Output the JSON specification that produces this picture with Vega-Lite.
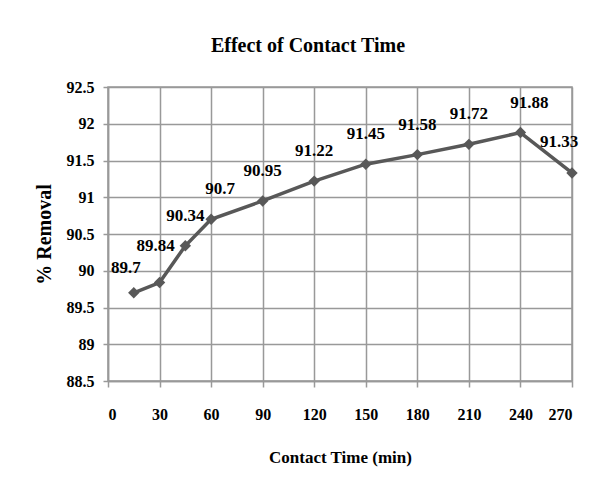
{
  "$schema": "https://vega.github.io/schema/vega-lite/v6.json",
  "width": 464,
  "height": 294,
  "autosize": {"type": "none"},
  "padding": {"left": 108, "top": 87, "right": 34, "bottom": 108},
  "background": "white",
  "title": {
    "text": "Effect of Contact Time",
    "font": "Liberation Serif",
    "fontSize": 20,
    "fontWeight": "bold",
    "color": "black",
    "dx": -32,
    "offset": 23
  },
  "data": {
    "values": [
      {"time": 15, "removal": 89.7},
      {"time": 30, "removal": 89.84},
      {"time": 45, "removal": 90.34},
      {"time": 60, "removal": 90.7},
      {"time": 90, "removal": 90.95},
      {"time": 120, "removal": 91.22},
      {"time": 150, "removal": 91.45},
      {"time": 180, "removal": 91.58},
      {"time": 210, "removal": 91.72},
      {"time": 240, "removal": 91.88},
      {"time": 270, "removal": 91.33}
    ]
  },
  "encoding": {
    "x": {
      "field": "time",
      "type": "quantitative",
      "scale": {"domain": [0, 270], "nice": false, "zero": false},
      "axis": {
        "title": "Contact Time (min)",
        "grid": true,
        "gridColor": "#999999",
        "gridWidth": 1.5,
        "domainWidth": 1.5,
        "tickWidth": 1.5,
        "values": [0, 30, 60, 90, 120, 150, 180, 210, 240, 270],
        "tickSize": 6,
        "labelPadding": 19,
        "titlePadding": 27
      }
    },
    "y": {
      "field": "removal",
      "type": "quantitative",
      "scale": {"domain": [88.5, 92.5], "nice": false, "zero": false},
      "axis": {
        "title": "% Removal",
        "grid": true,
        "gridColor": "#999999",
        "gridWidth": 1.5,
        "domainWidth": 1.5,
        "tickWidth": 1.5,
        "format": "~f",
        "values": [88.5, 89, 89.5, 90, 90.5, 91, 91.5, 92, 92.5],
        "tickSize": 5,
        "labelPadding": 9,
        "titlePadding": 12,
        "titleFontSize": 20
      }
    }
  },
  "layer": [
    {
      "mark": {"type": "line", "color": "#585858", "strokeWidth": 3.5}
    },
    {
      "mark": {"type": "point", "shape": "diamond", "filled": true, "size": 130, "color": "#585858", "opacity": 1}
    },
    {
      "transform": [{"filter": "datum.time != 30 && datum.time != 15 && datum.time != 60 && datum.time != 240 && datum.time != 270"}],
      "mark": {"type": "text", "dy": -30, "font": "Liberation Serif", "fontSize": 17, "fontWeight": "bold", "color": "black"},
      "encoding": {"text": {"field": "removal", "type": "quantitative"}}
    },
    {
      "transform": [{"filter": "datum.time == 60 || datum.time == 240"}],
      "mark": {"type": "text", "dy": -30, "dx": 9, "font": "Liberation Serif", "fontSize": 17, "fontWeight": "bold", "color": "black"},
      "encoding": {"text": {"field": "removal", "type": "quantitative"}}
    },
    {
      "transform": [{"filter": "datum.time == 270"}],
      "mark": {"type": "text", "dy": -31, "dx": -13, "font": "Liberation Serif", "fontSize": 17, "fontWeight": "bold", "color": "black"},
      "encoding": {"text": {"field": "removal", "type": "quantitative"}}
    },
    {
      "transform": [{"filter": "datum.time == 15"}],
      "mark": {"type": "text", "dy": -25, "dx": -8, "font": "Liberation Serif", "fontSize": 17, "fontWeight": "bold", "color": "black"},
      "encoding": {"text": {"field": "removal", "type": "quantitative"}}
    },
    {
      "transform": [{"filter": "datum.time == 30"}],
      "mark": {"type": "text", "dy": -37, "dx": -4, "font": "Liberation Serif", "fontSize": 17, "fontWeight": "bold", "color": "black"},
      "encoding": {"text": {"field": "removal", "type": "quantitative"}}
    }
  ],
  "config": {
    "font": "Liberation Serif",
    "view": {"stroke": "#999999", "strokeWidth": 1.5},
    "axis": {
      "labelFont": "Liberation Serif",
      "labelFontSize": 16,
      "labelFontWeight": "bold",
      "labelColor": "black",
      "titleFont": "Liberation Serif",
      "titleFontSize": 17,
      "titleFontWeight": "bold",
      "titleColor": "black",
      "gridOpacity": 1,
      "domainColor": "#999999",
      "tickColor": "#999999"
    }
  }
}
